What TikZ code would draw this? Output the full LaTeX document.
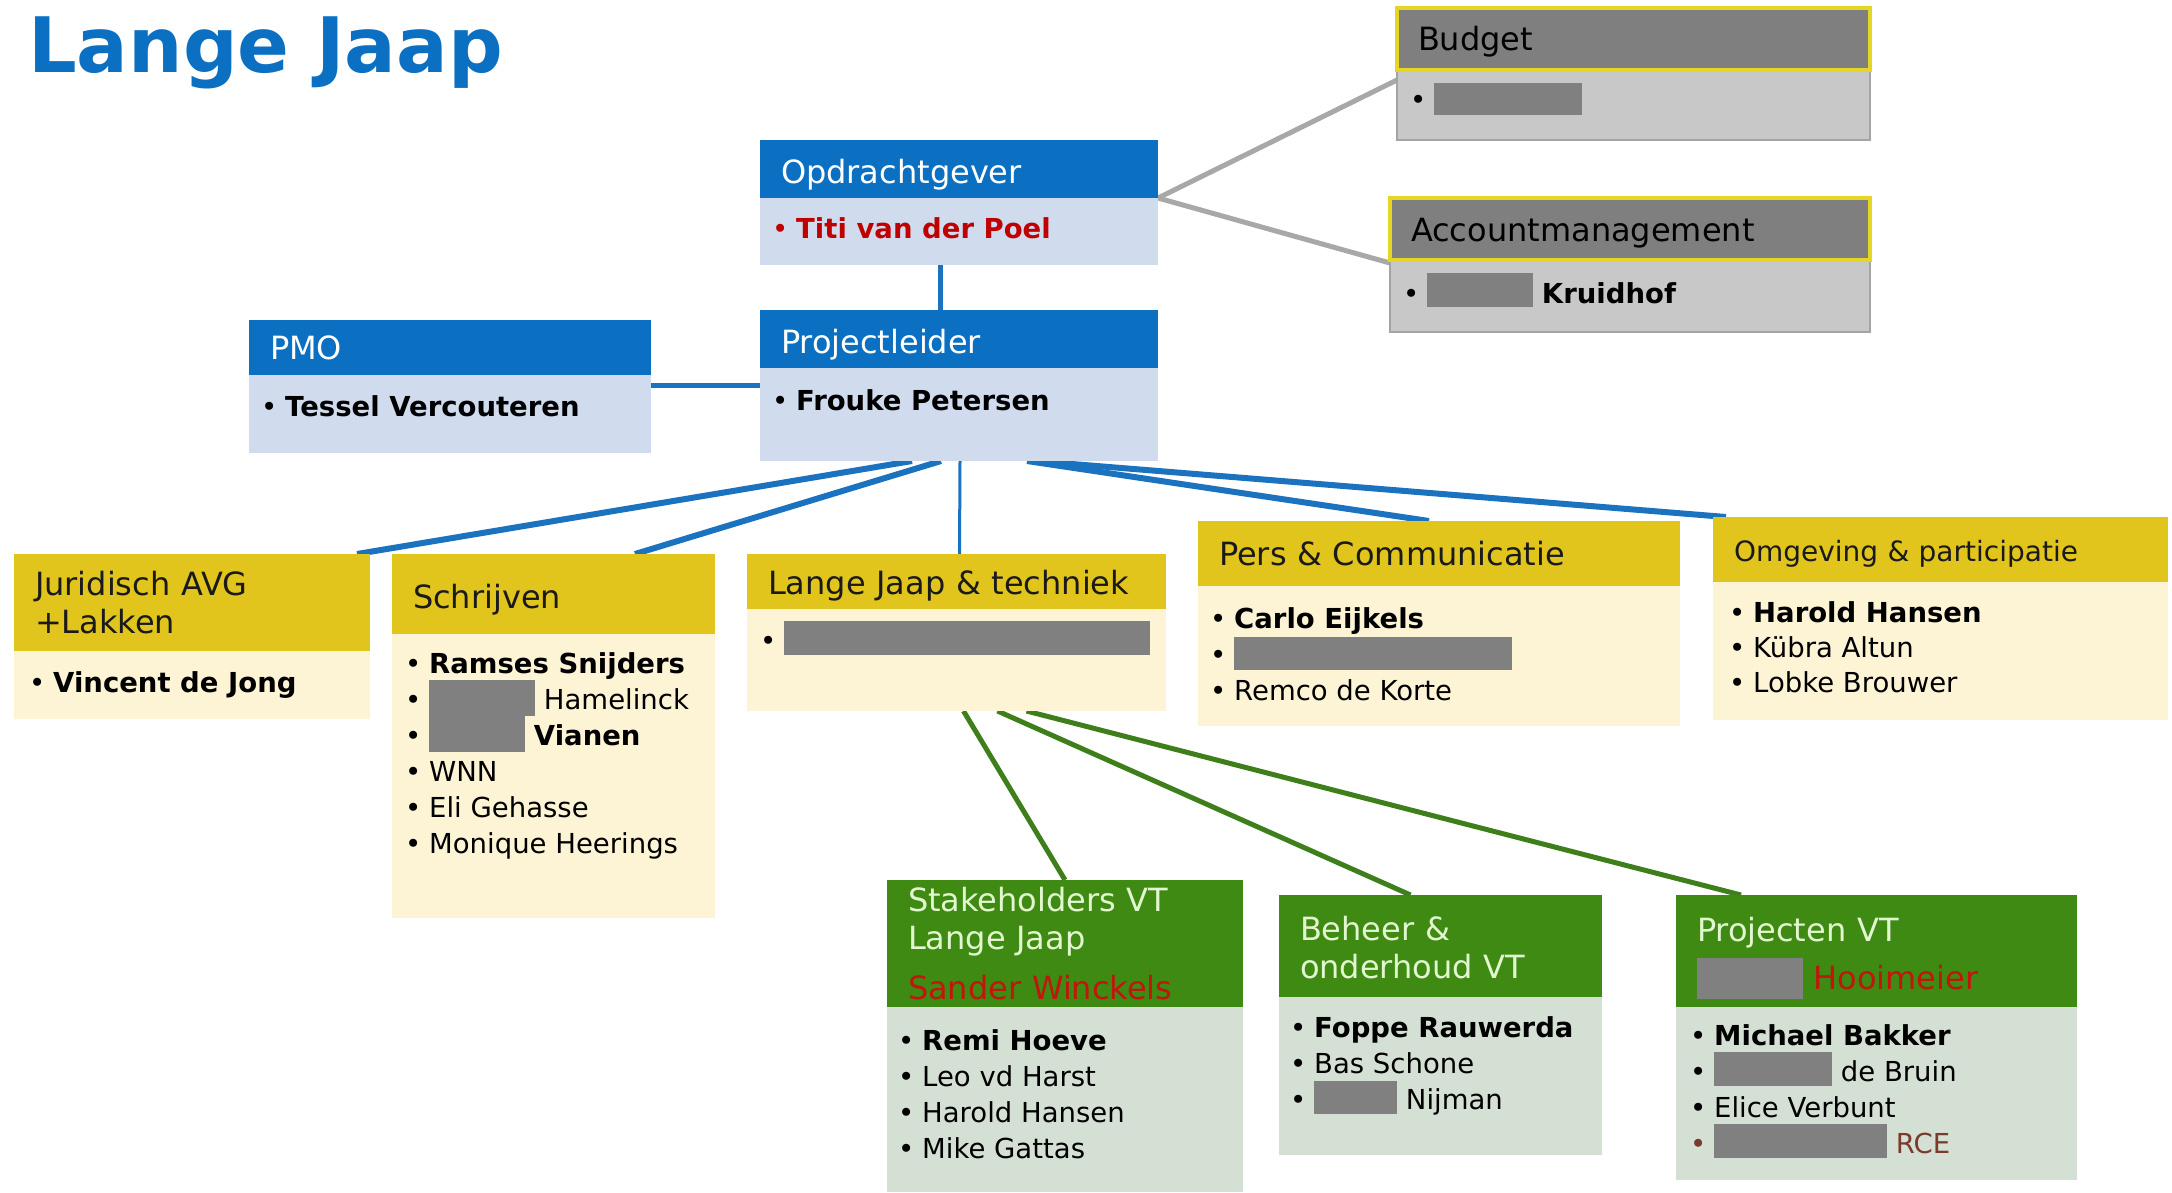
\documentclass[tikz,border=0pt]{standalone}
\usepackage{fontspec}
\setmainfont{DejaVu Sans}
\usepackage{tikz}
\usetikzlibrary{positioning,backgrounds}

\definecolor{orgblue}{HTML}{0B70C2}
\definecolor{bluebody}{HTML}{D0DCEE}
\definecolor{blueline}{HTML}{1B72BF}
\definecolor{goldhead}{HTML}{E2C51C}
\definecolor{creambody}{HTML}{FDF4D6}
\definecolor{greenhead}{HTML}{3E8A12}
\definecolor{greentext}{HTML}{E2F7CF}
\definecolor{greenbody}{HTML}{D5E0D4}
\definecolor{greenline}{HTML}{3E7F1C}
\definecolor{grayhead}{HTML}{7F7F7F}
\definecolor{grayframe}{HTML}{E6D624}
\definecolor{graybody}{HTML}{C8C8C8}
\definecolor{graybodyedge}{HTML}{A4A4A4}
\definecolor{grayline}{HTML}{A8A8A8}
\definecolor{blotgray}{HTML}{808080}
\definecolor{titired}{HTML}{C00000}
\definecolor{sanderred}{HTML}{C0160C}
\definecolor{rcebrown}{HTML}{7A3B2E}
\definecolor{headtext}{HTML}{1A1A1A}

\newcommand{\bul}{\makebox[24pt][l]{\textbullet}}
\newcommand{\blot}[3]{\textcolor{blotgray}{\rule[-#3]{#1}{#2}}}

\tikzset{
  box/.style={rectangle, anchor=north west, inner sep=0pt, outer sep=0pt},
  head/.style={box, inner xsep=21pt, align=left, font=\fontsize{32}{38}\selectfont},
  lower/.style={execute at begin node={\rule{0pt}{#1}}},
  list/.style={anchor=north west, inner sep=0pt, align=left, font=\fontsize{27.5}{36}\selectfont},
  bluehead/.style={head, fill=orgblue, text=white},
  bluebody/.style={box, fill=bluebody},
  goldhd/.style={head, fill=goldhead, text=headtext},
  goldbody/.style={box, fill=creambody},
  greenhd/.style={head, fill=greenhead, text=greentext},
  greenbd/.style={box, fill=greenbody},
  grayhd/.style={head, fill=grayhead, draw=grayframe, line width=4pt, text=black},
  graybd/.style={box, fill=graybody, draw=graybodyedge, line width=2pt},
  blueconn/.style={draw=blueline, line width=6pt},
  greenconn/.style={draw=greenline, line width=5pt},
  grayconn/.style={draw=grayline, line width=5pt}
}

\begin{document}
\begin{tikzpicture}[x=1pt,y=-1pt]

\useasboundingbox (0,0) rectangle (2172,1192);

\node[anchor=base west, inner sep=0pt, text=orgblue, font=\fontsize{76.5}{80}\selectfont\bfseries] (title) at (28,72) {Lange Jaap};

\node[bluehead, lower=35pt, text width=356pt, minimum height=58pt] (opdr) at (760,140) {Opdrachtgever};
\node[bluebody, below=0pt of opdr.south west, anchor=north west, minimum width=398pt, minimum height=67pt] (opdr-b) {};
\node[list] (opdr-t) at ([shift={(12,19)}]opdr-b.north west) {\textcolor{titired}{\bul\textbf{Titi van der Poel}}};

\node[bluehead, lower=35pt, text width=356pt, minimum height=58pt] (pl) at (760,310) {Projectleider};
\node[bluebody, below=0pt of pl.south west, anchor=north west, minimum width=398pt, minimum height=93pt] (pl-b) {};
\node[list] (pl-t) at ([shift={(12,21)}]pl-b.north west) {\bul\textbf{Frouke Petersen}};

\node[bluehead, text width=360pt, minimum height=55pt] (pmo) at (249,320) {PMO};
\node[bluebody, below=0pt of pmo.south west, anchor=north west, minimum width=402pt, minimum height=78pt] (pmo-b) {};
\node[list] (pmo-t) at ([shift={(12,20)}]pmo-b.north west) {\bul\textbf{Tessel Vercouteren}};

\node[graybd, minimum width=473pt, minimum height=70pt] (bud-b) at (1397,70) {};
\node[grayhd, lower=30pt, text width=431pt, minimum height=62pt] (bud) at (1397,8) {Budget};
\node[list] (bud-t) at ([shift={(13,13)}]bud-b.north west) {\bul\blot{148pt}{32pt}{6pt}};

\node[graybd, minimum width=480pt, minimum height=72pt] (acc-b) at (1390,260) {};
\node[grayhd, lower=32pt, text width=438pt, minimum height=62pt] (acc) at (1390,198) {Accountmanagement};
\node[list] (acc-t) at ([shift={(13,13)}]acc-b.north west) {\bul\blot{106pt}{34pt}{4pt} \textbf{Kruidhof}};

\node[goldhd, text width=314pt, minimum height=97pt] (jur) at (14,554) {Juridisch AVG\\+Lakken};
\node[goldbody, below=0pt of jur.south west, anchor=north west, minimum width=356pt, minimum height=68pt] (jur-b) {};
\node[list] (jur-t) at ([shift={(15,20)}]jur-b.north west) {\bul\textbf{Vincent de Jong}};

\node[goldhd, lower=35pt, text width=281pt, minimum height=80pt] (schr) at (392,554) {Schrijven};
\node[goldbody, below=0pt of schr.south west, anchor=north west, minimum width=323pt, minimum height=284pt] (schr-b) {};
\node[list] (schr-t) at ([shift={(13,18)}]schr-b.north west) {\bul\textbf{Ramses Snijders}\\
\bul\blot{106pt}{36pt}{7pt} Hamelinck\\
\bul\blot{96pt}{36pt}{7pt} \textbf{Vianen}\\
\bul WNN\\
\bul Eli Gehasse\\
\bul Monique Heerings};

\node[goldhd, lower=32pt, text width=377pt, minimum height=55pt] (tech) at (747,554) {Lange Jaap \& techniek};
\node[goldbody, below=0pt of tech.south west, anchor=north west, minimum width=419pt, minimum height=102pt] (tech-b) {};
\node[list] (tech-t) at ([shift={(13,12)}]tech-b.north west) {\bul\blot{366pt}{34pt}{5pt}};

\node[goldhd, text width=440pt, minimum height=65pt] (pers) at (1198,521) {Pers \& Communicatie};
\node[goldbody, below=0pt of pers.south west, anchor=north west, minimum width=482pt, minimum height=140pt] (pers-b) {};
\node[list] (pers-t) at ([shift={(12,21)}]pers-b.north west) {\bul\textbf{Carlo Eijkels}\\
\bul\blot{278pt}{33pt}{6pt}\\
\bul Remco de Korte};

\node[goldhd, lower=29pt, text width=413pt, minimum height=65pt, font=\fontsize{28}{34}\selectfont] (omg) at (1713,517) {Omgeving \& participatie};
\node[goldbody, below=0pt of omg.south west, anchor=north west, minimum width=455pt, minimum height=138pt] (omg-b) {};
\node[list, font=\fontsize{27.5}{35}\selectfont] (omg-t) at ([shift={(16,19)}]omg-b.north west) {\bul\textbf{Harold Hansen}\\
\bul Kübra Altun\\
\bul Lobke Brouwer};

\node[greenhd, text width=314pt, minimum height=127pt] (stake) at (887,880) {Stakeholders VT\\Lange Jaap\\[12pt]\textcolor{sanderred}{Sander Winckels}};
\node[greenbd, below=0pt of stake.south west, anchor=north west, minimum width=356pt, minimum height=185pt] (stake-b) {};
\node[list] (stake-t) at ([shift={(11,22)}]stake-b.north west) {\bul\textbf{Remi Hoeve}\\
\bul Leo vd Harst\\
\bul Harold Hansen\\
\bul Mike Gattas};

\node[greenhd, lower=27pt, text width=281pt, minimum height=102pt] (beh) at (1279,895) {Beheer \&\\onderhoud VT};
\node[greenbd, below=0pt of beh.south west, anchor=north west, minimum width=323pt, minimum height=158pt] (beh-b) {};
\node[list] (beh-t) at ([shift={(11,19)}]beh-b.north west) {\bul\textbf{Foppe Rauwerda}\\
\bul Bas Schone\\
\bul\blot{83pt}{33pt}{5pt} Nijman};

\node[greenhd, lower=38pt, text width=359pt, minimum height=112pt] (pvt) at (1676,895) {Projecten VT\\[10pt]\blot{106pt}{41pt}{10pt} \textcolor{sanderred}{Hooimeier}};
\node[greenbd, below=0pt of pvt.south west, anchor=north west, minimum width=401pt, minimum height=173pt] (pvt-b) {};
\node[list] (pvt-t) at ([shift={(14,17)}]pvt-b.north west) {\bul\textbf{Michael Bakker}\\
\bul\blot{118pt}{34pt}{5pt} de Bruin\\
\bul Elice Verbunt\\
\textcolor{rcebrown}{\bul}\blot{173pt}{34pt}{5pt} \textcolor{rcebrown}{RCE}};

\begin{pgfonlayer}{background}
\draw[grayconn] (opdr-b.north east) -- ([yshift=-10pt]bud-b.north west);
\draw[grayconn] (opdr-b.north east) -- ([yshift=-3pt]acc-b.north west);

\draw[blueconn, line width=5pt] ([xshift=-19pt]opdr-b.south) -- ([xshift=-19pt]pl.north);
\draw[blueconn, line width=5pt] ([yshift=-10pt]pmo-b.north east) -- ([yshift=-17pt]pl-b.north west);

\draw[blueconn] ([xshift=-47pt]pl-b.south) -- ([xshift=-13pt]jur.north east);
\draw[blueconn] ([xshift=-18pt]pl-b.south) -- ([xshift=-80pt]schr.north east);
\draw[blueconn, line width=3pt] ([xshift=1pt]pl-b.south) -- ([xshift=3pt]tech.north);
\draw[blueconn] ([xshift=68pt]pl-b.south) -- ([xshift=-10pt]pers.north);
\draw[blueconn] ([xshift=76pt]pl-b.south) -- ([xshift=13pt]omg.north west);

\draw[greenconn] ([xshift=7pt]tech-b.south) -- (stake.north);
\draw[greenconn] ([xshift=41pt]tech-b.south) -- ([xshift=-30pt]beh.north);
\draw[greenconn] ([xshift=70pt]tech-b.south) -- ([xshift=65pt]pvt.north west);
\end{pgfonlayer}

\end{tikzpicture}
\end{document}
